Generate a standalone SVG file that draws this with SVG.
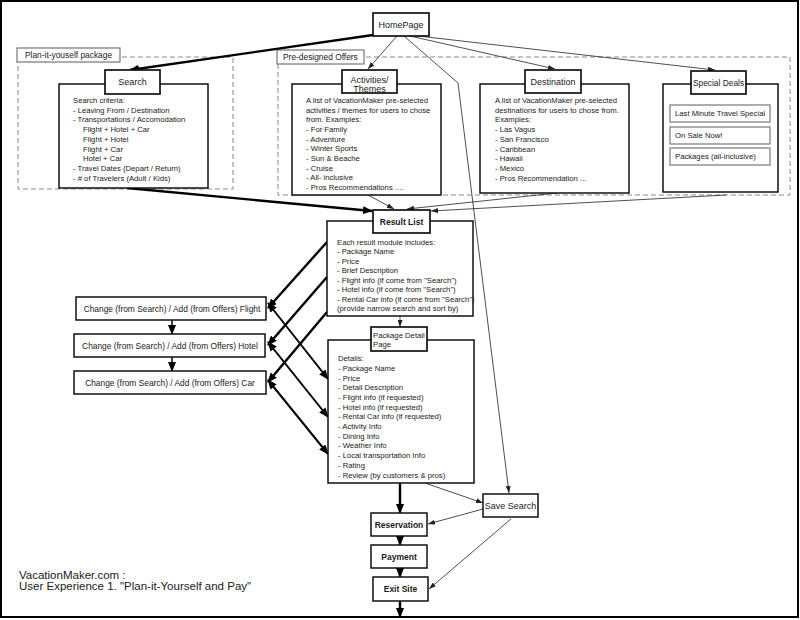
<svg xmlns="http://www.w3.org/2000/svg" width="800" height="620" viewBox="0 0 800 620">
<style>
text{font-family:"Liberation Sans",Arial,sans-serif;fill:#1a1a1a}
.b{font-size:7.7px}
.h{font-size:9px;text-anchor:middle}
.hb{font-size:8.5px;font-weight:bold;text-anchor:middle}
.c{font-size:8.4px;text-anchor:middle}
.lab{font-size:8.4px}
.box{fill:#fff;stroke:#111;stroke-width:1.5}
.tbox{fill:#fff;stroke:#111;stroke-width:1.7}
.gbox{fill:#fff;stroke:#777;stroke-width:1.2}
.dash{fill:none;stroke:#8a8a8a;stroke-width:1;stroke-dasharray:5 3}
.thick{fill:none;stroke:#000;stroke-width:2.4;marker-end:url(#ah)}
.thin{fill:none;stroke:#222;stroke-width:0.8;marker-end:url(#at)}
.dbl{fill:none;stroke:#000;stroke-width:2;marker-end:url(#ah);marker-start:url(#ahs)}
</style>
<defs>
<marker id="ah" markerWidth="10" markerHeight="8" refX="9" refY="4" orient="auto" markerUnits="userSpaceOnUse"><path d="M0,0 L10,4 L0,8 z" fill="#000"/></marker>
<marker id="ahs" markerWidth="10" markerHeight="8" refX="9" refY="4" orient="auto-start-reverse" markerUnits="userSpaceOnUse"><path d="M0,0 L10,4 L0,8 z" fill="#000"/></marker>
<marker id="at" markerWidth="7" markerHeight="5" refX="7" refY="2.5" orient="auto" markerUnits="userSpaceOnUse"><path d="M0,0 L7,2.5 L0,5 z" fill="#222"/></marker>
</defs>
<rect x="1" y="1" width="797" height="616" fill="#fff" stroke="#000" stroke-width="2"/>

<g id="group-plan">
<rect class="dash" x="18" y="57" width="215" height="132"/>
<rect class="gbox" x="17" y="48" width="103" height="14"/>
<text class="lab" x="25" y="58.2">Plan-it-youself package</text>
</g>
<g id="group-offers">
<rect class="dash" x="278" y="57" width="512" height="138"/>
<rect class="gbox" x="277" y="50" width="87" height="14"/>
<text class="lab" x="283" y="60.2">Pre-designed Offers</text>
</g>

<g id="connectors">
<path class="thick" d="M373,35 L130,70"/>
<path class="thin" d="M397,36 L368,69"/>
<path class="thin" d="M410,36 L555,69"/>
<path class="thin" d="M418,36 L715,70"/>
<path class="thin" d="M404,36 L458,83 L509,493"/>
<path class="thick" d="M127,188 L372,211"/>
<path class="thin" d="M368,195 L394,209"/>
<path class="thin" d="M557,193 L407,209"/>
<path class="thin" d="M726,195 L431,211"/>
<path class="thin" d="M400,316 L400,327"/>
<path class="thick" d="M327,242 L268,308"/>
<path class="thick" d="M327,277 L268,345"/>
<path class="thick" d="M327,312 L268,382"/>
<path class="dbl" d="M268,303 L328,379"/>
<path class="dbl" d="M268,342 L328,417"/>
<path class="dbl" d="M268,380 L328,454"/>
<path class="thick" style="stroke-width:1.5" d="M172,320 L172,334"/>
<path class="thick" style="stroke-width:1.5" d="M172,357 L172,371"/>
<path class="thick" d="M400,483 L400,513"/>
<path class="thick" d="M400,536 L400,545"/>
<path class="thick" d="M400,568 L400,577"/>
<path class="thick" d="M400,601 L400,617"/>
<path class="thin" d="M425,483 L483,503"/>
<path class="thin" d="M483,509 L428,524"/>
<path class="thin" d="M511,519 L429,589"/>
</g>

<g id="homepage">
<rect class="tbox" x="373" y="13" width="56" height="23"/>
<text class="h" x="401" y="28">HomePage</text>
</g>

<g id="search">
<rect class="box" x="59" y="84" width="149" height="104"/>
<rect class="tbox" x="105" y="70" width="55" height="24"/>
<text class="h" x="132.5" y="85.3">Search</text>
<text class="b" x="73" y="102.8">Search criteria:</text>
<text class="b" x="73" y="112.55">- Leaving From / Destination</text>
<text class="b" x="73" y="122.3">- Transportations / Accomodation</text>
<text class="b" x="83" y="132.05">Flight + Hotel + Car</text>
<text class="b" x="83" y="141.8">Flight + Hotel</text>
<text class="b" x="83" y="151.55">Flight + Car</text>
<text class="b" x="83" y="161.3">Hotel + Car</text>
<text class="b" x="73" y="171.05">- Travel Dates (Depart / Return)</text>
<text class="b" x="73" y="180.8">- # of Travelers (Adult / Kids)</text>
</g>

<g id="activities">
<rect class="box" x="292" y="84" width="149" height="111"/>
<rect class="tbox" x="342" y="70" width="55" height="23"/>
<text class="h" x="369.5" y="83">Activities/</text>
<text class="h" x="369.5" y="91.5">Themes</text>
<text class="b" x="306" y="102.8">A list of VacationMaker pre-selected</text>
<text class="b" x="306" y="112.5">activities / themes for users to chose</text>
<text class="b" x="306" y="122.2">from. Examples:</text>
<text class="b" x="306" y="131.9">- For Family</text>
<text class="b" x="306" y="141.6">- Adventure</text>
<text class="b" x="306" y="151.3">- Winter Sports</text>
<text class="b" x="306" y="161">- Sun &amp; Beache</text>
<text class="b" x="306" y="170.7">- Cruise</text>
<text class="b" x="306" y="180.4">- All- inclusive</text>
<text class="b" x="306" y="190.1">- Pros Recommendations ....</text>
</g>

<g id="destination">
<rect class="box" x="480" y="84" width="149" height="109"/>
<rect class="tbox" x="525" y="70" width="56" height="23"/>
<text class="h" x="553" y="84.8">Destination</text>
<text class="b" x="495" y="102.8">A list of VacationMaker pre-selected</text>
<text class="b" x="495" y="112.55">destinations for users to chose from.</text>
<text class="b" x="495" y="122.3">Examples:</text>
<text class="b" x="495" y="132.05">- Las Vagus</text>
<text class="b" x="495" y="141.8">- San Francisco</text>
<text class="b" x="495" y="151.55">- Caribbean</text>
<text class="b" x="495" y="161.3">- Hawaii</text>
<text class="b" x="495" y="171.05">- Mexico</text>
<text class="b" x="495" y="180.8">- Pros Recommendation ...</text>
</g>

<g id="special-deals">
<rect class="box" x="663" y="84" width="115" height="108"/>
<rect class="tbox" x="691" y="71" width="55" height="23"/>
<text class="h" x="718.5" y="85.6" style="font-size:8.4px">Special Deals</text>
<rect class="gbox" x="670" y="105" width="100" height="17"/>
<text class="b" x="675" y="116.3">Last Minute Travel Special</text>
<rect class="gbox" x="670" y="127" width="100" height="17"/>
<text class="b" x="675" y="138.3">On Sale Now!</text>
<rect class="gbox" x="670" y="148" width="100" height="17"/>
<text class="b" x="675" y="159.3">Packages (all-inclusive)</text>
</g>

<g id="result-list">
<rect class="box" x="327" y="221" width="146" height="95"/>
<rect class="tbox" x="373" y="210" width="57" height="23"/>
<text class="hb" x="401.5" y="224.8">Result List</text>
<text class="b" x="337" y="244.5">Each result module includes:</text>
<text class="b" x="337" y="254.05">- Package Name</text>
<text class="b" x="337" y="263.6">- Price</text>
<text class="b" x="337" y="273.15">- Brief Description</text>
<text class="b" x="337" y="282.7">- Flight info (if come from "Search")</text>
<text class="b" x="337" y="292.25">- Hotel info (if come from "Search")</text>
<text class="b" x="337" y="301.8">- Rental Car info (if come from "Search")</text>
<text class="b" x="337" y="311.35">(provide narrow search and sort by)</text>
</g>

<g id="package-detail">
<rect class="box" x="328" y="340" width="146" height="143"/>
<rect class="tbox" x="371" y="327" width="56" height="24"/>
<text class="b" x="373" y="337.8">Package Detail</text>
<text class="b" x="373" y="347">Page</text>
<text class="b" x="338" y="361.1">Details:</text>
<text class="b" x="338" y="370.8">- Package Name</text>
<text class="b" x="338" y="380.5">- Price</text>
<text class="b" x="338" y="390.2">- Detail Description</text>
<text class="b" x="338" y="399.9">- Flight info (if requested)</text>
<text class="b" x="338" y="409.6">- Hotel info (if requested)</text>
<text class="b" x="338" y="419.3">- Rental Car info (if requested)</text>
<text class="b" x="338" y="429">- Activity Info</text>
<text class="b" x="338" y="438.7">- Dining Info</text>
<text class="b" x="338" y="448.4">- Weather Info</text>
<text class="b" x="338" y="458.1">- Local transportation Info</text>
<text class="b" x="338" y="467.8">- Rating</text>
<text class="b" x="338" y="477.5">- Review (by customers &amp; pros)</text>
</g>

<g id="change-flight">
<rect class="box" x="76" y="297" width="190" height="23"/>
<text class="c" x="172" y="311.5">Change (from Search) / Add (from Offers) Flight</text>
</g>
<g id="change-hotel">
<rect class="box" x="74" y="334" width="191" height="23"/>
<text class="c" x="170" y="348.5">Change (from Search) / Add (from Offers) Hotel</text>
</g>
<g id="change-car">
<rect class="box" x="74" y="371" width="192" height="23"/>
<text class="c" x="170" y="385.5">Change (from Search) / Add (from Offers) Car</text>
</g>

<g id="reservation">
<rect class="box" x="371" y="513" width="56" height="23"/>
<text class="hb" x="399" y="527.8">Reservation</text>
</g>
<g id="payment">
<rect class="box" x="371" y="545" width="56" height="23"/>
<text class="hb" x="399" y="559.8">Payment</text>
</g>
<g id="exit-site">
<rect class="box" x="373" y="577" width="55" height="24"/>
<text class="hb" x="400.5" y="592.3">Exit Site</text>
</g>
<g id="save-search">
<rect class="box" x="483" y="494" width="55" height="23"/>
<text class="h" x="510.5" y="508.8">Save Search</text>
</g>

<g id="title">
<text x="19" y="579" style="font-size:11.5px">VacationMaker.com :</text>
<text x="19" y="590" style="font-size:11.5px">User Experience 1. "Plan-it-Yourself and Pay"</text>
</g>
</svg>
